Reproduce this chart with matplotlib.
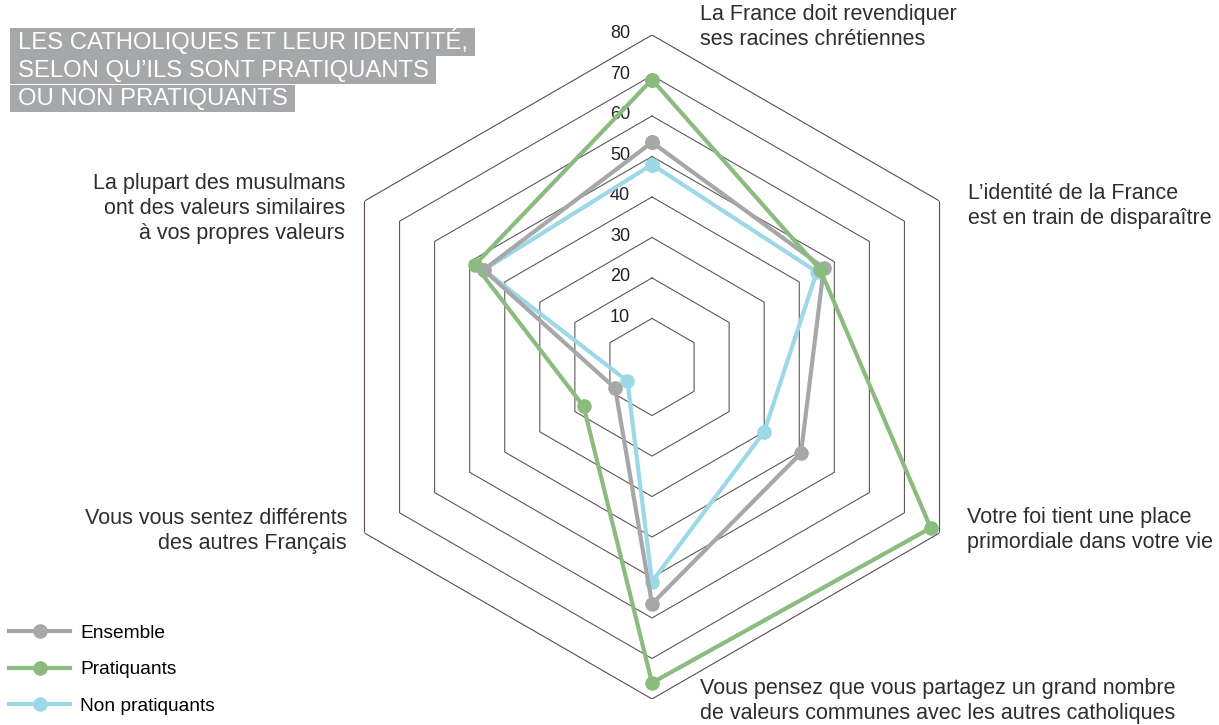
import numpy as np
import matplotlib.pyplot as plt
from matplotlib.patches import Rectangle

plt.rcParams["font.family"] = ["Liberation Sans", "DejaVu Sans"]

# Axes, clockwise from the top
axes_labels = [
    "La France doit revendiquer\nses racines chrétiennes",
    "L\u2019identité de la France\nest en train de disparaître",
    "Votre foi tient une place\nprimordiale dans votre vie",
    "Vous pensez que vous partagez un grand nombre\nde valeurs communes avec les autres catholiques",
    "Vous vous sentez différents\ndes autres Français",
    "La plupart des musulmans\nont des valeurs similaires\nà vos propres valeurs",
]
ensemble = [53.5, 47, 40.5, 56.5, 8.5, 46]
pratiquants = [69, 46, 77.5, 76, 17.5, 48.5]
non_pratiquants = [48, 45, 30, 51, 5, 46]
ring_values = [10, 20, 30, 40, 50, 60, 70, 80]

series = [
    ("Non pratiquants", non_pratiquants, "#9dd8e9"),
    ("Ensemble", ensemble, "#a5a7a9"),
    ("Pratiquants", pratiquants, "#8bbb7f"),
]

W, H = 1219, 725
fig = plt.figure(figsize=(W / 100, H / 100), dpi=100)


def fx(x):
    return x / W


def fy(y):
    return 1 - y / H


# polar axes centred at (652, 367) px, radius 332 px
cx, cy, R = 652, 367, 332
ax = fig.add_axes([fx(cx - R), fy(cy + R), 2 * R / W, 2 * R / H], projection="polar")
ax.set_theta_zero_location("N")
ax.set_theta_direction(-1)
ax.set_ylim(-2, 80)
ax.grid(False)
ax.spines["polar"].set_visible(False)
ax.set_xticks([])
ax.set_yticks([])

n = len(axes_labels)
theta = np.linspace(0, 2 * np.pi, n, endpoint=False)
theta_closed = np.append(theta, theta[0])

# hexagonal rings
for v in ring_values:
    col = "#5c4b53" if v == 80 else "#5a5a5a"
    ax.plot(theta_closed, [v] * (n + 1), color=col, lw=0.8, zorder=1)
    ax.annotate(str(v), xy=(0, v), xytext=(-22, 1), textcoords="offset pixels",
                ha="right", va="center", fontsize=13, color="#222222")

handles = {}
for name, vals, col in series:
    vals_closed = np.append(vals, vals[0])
    (ln,) = ax.plot(theta_closed, vals_closed, color=col, lw=3, marker="o",
                    markersize=9.5, zorder=3, label=name)
    handles[name] = ln

# axis labels (per line, baselines in px)
label_pos = [
    (700, 20, "left"),
    (968, 199, "left"),
    (967, 523, "left"),
    (700, 694, "left"),
    (347, 524, "right"),
    (345, 189, "right"),
]
for text, (x, y, ha) in zip(axes_labels, label_pos):
    for i, line in enumerate(text.split("\n")):
        fig.text(fx(x), fy(y + 25 * i), line, ha=ha, va="baseline",
                 fontsize=15.5, color="#2e2e2e")

# title with grey band behind each line
title_lines = ["LES CATHOLIQUES ET LEUR IDENTITÉ,", "SELON QU\u2019ILS SONT PRATIQUANTS",
               "OU NON PRATIQUANTS"]
title_texts = []
for i, line in enumerate(title_lines):
    base = 48.5 + 28.3 * i
    t = fig.text(fx(18), fy(base), line, ha="left", va="baseline",
                 fontsize=17.2, color="white", zorder=3)
    title_texts.append((t, base))

fig.canvas.draw()
renderer = fig.canvas.get_renderer()
for t, base in title_texts:
    bb = t.get_window_extent(renderer)
    x0, x1 = bb.x0 - 8, bb.x1 + 7
    top, bottom = base - 20.5, base + 7
    fig.patches.append(Rectangle((fx(x0), fy(bottom)), (x1 - x0) / W, (bottom - top) / H,
                                 transform=fig.transFigure, fc="#a5a7a8", ec="none",
                                 zorder=2))

# legend
leg_order = ["Ensemble", "Pratiquants", "Non pratiquants"]
fig.legend([handles[k] for k in leg_order], leg_order, loc="lower left",
           bbox_to_anchor=(fx(9), fy(715)), frameon=False, fontsize=13.8,
           handlelength=3.2, handletextpad=0.5, labelspacing=1.0,
           borderpad=0, borderaxespad=0)

fig.savefig("out.png", dpi=100)
